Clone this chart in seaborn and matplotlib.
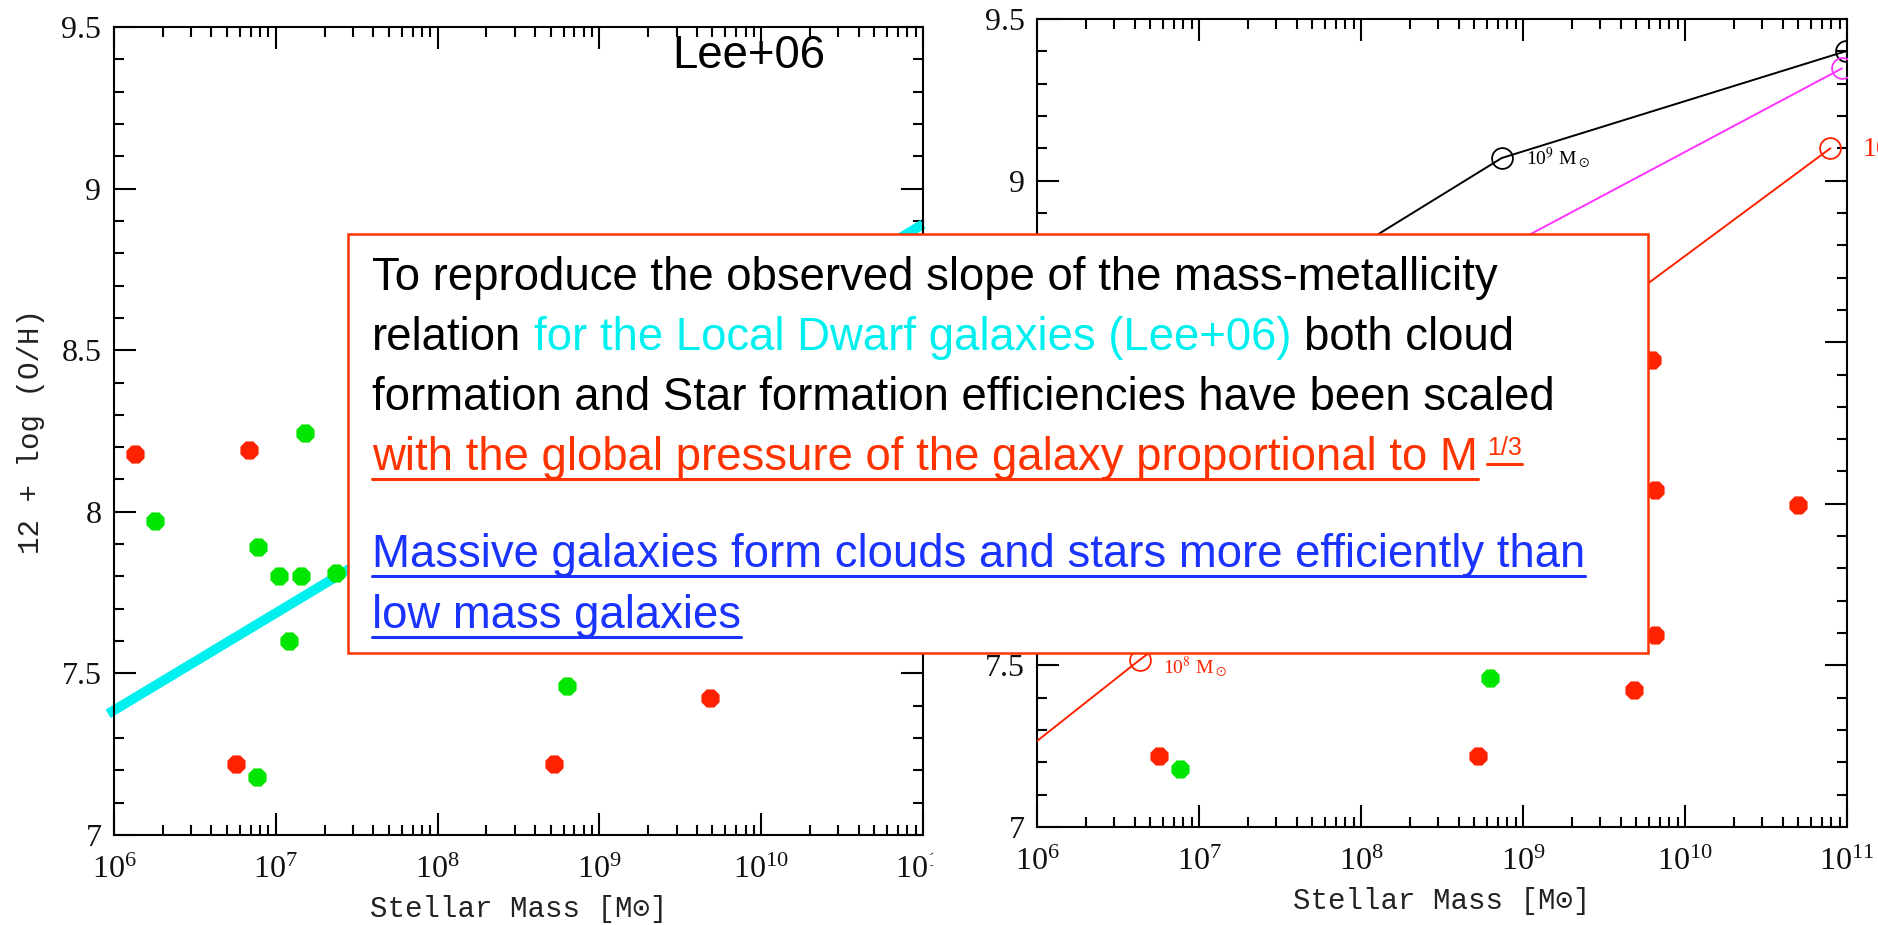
import matplotlib
matplotlib.use("Agg")
import matplotlib.pyplot as plt
import seaborn as sns
from matplotlib.patches import Rectangle
from matplotlib.lines import Line2D
from matplotlib.transforms import Bbox, TransformedBbox
from matplotlib.ticker import LogLocator, MultipleLocator, LogFormatterMathtext

# -------------------------------------------------------------------------
# data (stellar mass in M_sun, 12 + log(O/H))
# -------------------------------------------------------------------------
red_mass = [1.35e6, 6.8e6, 5.65e6, 5.27e8, 4.84e9, 6.22e9, 6.53e9, 6.53e9, 5.0e10]
red_oh = [8.18, 8.19, 7.22, 7.22, 7.425, 8.445, 8.043, 7.594, 7.996]

green_mass = [1.51e7, 1.79e6, 7.8e6, 1.045e7, 1.44e7, 2.34e7, 1.2e7, 7.6e6, 6.3e8]
green_oh = [8.244, 7.97, 7.89, 7.80, 7.80, 7.81, 7.60, 7.18, 7.46]

# Lee+06 mass-metallicity relation
lee_mass = [9.2e5, 1.0e11]
lee_oh = [7.375, 8.89]

# model tracks (right panel)
black_mass = [4.7e7, 7.4e8, 9.8e10]
black_oh = [8.70, 9.07, 9.40]
magenta_mass = [3.2e8, 9.3e10]
magenta_oh = [8.69, 9.347]
redmod_mass = [3.2e5, 4.3e6, 7.9e10]
redmod_oh = [7.07, 7.517, 9.10]

x_ticks = [1e6, 1e7, 1e8, 1e9, 1e10, 1e11]
y_ticks = [7, 7.5, 8, 8.5, 9, 9.5]
y_ticklabels = ['7', '7.5', '8', '8.5', '9', '9.5']

# colours
RED = '#ff2200'
GREEN = '#00e600'
CYAN = '#00f0f0'
BLUE = '#1a33ff'
MAGENTA = '#ff33ff'
BOXRED = '#ff3300'

W, H = 1878, 925
MONO = ['Liberation Mono', 'DejaVu Sans Mono']
BOX_FONT = ['Liberation Sans', 'DejaVu Sans']

sns.set_theme(style='ticks')
plt.rcParams['font.family'] = 'serif'
plt.rcParams['font.serif'] = ['Liberation Serif', 'DejaVu Serif']
plt.rcParams['mathtext.fontset'] = 'stix'

fig = plt.figure(figsize=(W / 100, H / 100), dpi=100)
fig.patch.set_facecolor('white')

ax1 = fig.add_axes([114 / W, 1 - 835 / H, 809 / W, 808 / H])
ax2 = fig.add_axes([1037 / W, 1 - 827 / H, 810 / W, 808 / H])


def style_axes(ax):
    ax.set_xscale('log')
    ax.set_xlim(1e6, 1e11)
    ax.set_ylim(7, 9.5)
    ax.set_facecolor('white')
    ax.grid(False)
    ax.set_xticks(x_ticks)
    ax.xaxis.set_major_formatter(LogFormatterMathtext())
    ax.xaxis.set_minor_locator(LogLocator(base=10, subs=range(2, 10), numticks=20))
    ax.set_yticks(y_ticks)
    ax.set_yticklabels(y_ticklabels)
    ax.yaxis.set_minor_locator(MultipleLocator(0.1))
    ax.tick_params(which='both', direction='in', top=True, right=True,
                   width=1.5, color='black', labelcolor='#111111')
    ax.tick_params(which='major', length=16, labelsize=23, pad=9)
    ax.tick_params(axis='x', which='major', pad=15)
    ax.tick_params(which='minor', length=7)
    for sp in ax.spines.values():
        sp.set_visible(True)
        sp.set_color('black')
        sp.set_linewidth(1.5)
    ax.set_xlabel('Stellar Mass [M\u2299]', family=MONO, fontsize=21,
                  color='#222222', labelpad=7)


for ax in (ax1, ax2):
    style_axes(ax)
    sns.scatterplot(x=red_mass, y=red_oh, ax=ax, color=RED, marker='8',
                    s=200, linewidth=0, zorder=5)
    sns.scatterplot(x=green_mass, y=green_oh, ax=ax, color=GREEN, marker='8',
                    s=200, linewidth=0, zorder=5)

# left panel: Lee+06 relation
sns.lineplot(x=lee_mass, y=lee_oh, ax=ax1, color=CYAN, lw=7, estimator=None,
             solid_capstyle='butt', clip_on=False, zorder=2)
ax1.set_ylabel('12 + log (O/H)', family=MONO, fontsize=21, color='#222222', labelpad=12)

# right panel: model tracks
for xs, ys, c in [(black_mass, black_oh, 'black'),
                  (magenta_mass, magenta_oh, MAGENTA),
                  (redmod_mass, redmod_oh, RED)]:
    sns.lineplot(x=xs, y=ys, ax=ax2, color=c, lw=1.4, sort=False, estimator=None,
                 marker='o', ms=15, mfc='none', mec=c, mew=1.3, zorder=3)
ax2.set_ylabel('')
ax2.text(1.05e9, 9.07, r'10$^9$ M$_\odot$', fontsize=14, color='black', va='center')
ax2.text(6.0e6, 7.495, r'10$^8$ M$_\odot$', fontsize=14, color=RED, va='center')
ax2.text(1.23e11, 9.10, r'10$^{10}$ M$_\odot$', fontsize=20, color=RED, va='center')

# the left panel's last tick label is cut by the neighbouring image
fig.canvas.draw()
clip = TransformedBbox(Bbox([[0, 0], [933 / W, 1]]), fig.transFigure)
for lab in ax1.get_xticklabels():
    lab.set_clip_box(clip)
    lab.set_clip_on(True)

# -------------------------------------------------------------------------
# overlaid text box
# -------------------------------------------------------------------------
fig.patches.append(Rectangle((348 / W, 1 - 653 / H), (1648 - 348) / W, (653 - 234) / H,
                             transform=fig.transFigure, facecolor='white',
                             edgecolor=BOXRED, linewidth=1.8, zorder=10))

renderer = fig.canvas.get_renderer()


def text_width(s, size):
    t = fig.text(0, 0, s, fontsize=size, family=BOX_FONT)
    w = t.get_window_extent(renderer).width
    t.remove()
    return w


widest = 'Massive galaxies form clouds and stars more efficiently than'
box_size = 30 * (1584 - 372) / text_width(widest, 30)
space = text_width('a a', box_size) - text_width('aa', box_size)


def put_line(y_base, pieces, x0=372, size=None):
    size = size or box_size
    x = x0
    for s, color, under in pieces:
        t = fig.text(x / W, 1 - y_base / H, s, color=color, fontsize=size,
                     family=BOX_FONT, va='baseline', ha='left', zorder=11)
        bb = t.get_window_extent(renderer)
        if under:
            fig.add_artist(Line2D([x / W, bb.x1 / W], [1 - (y_base + 9) / H] * 2,
                                  transform=fig.transFigure, color=color, lw=2.2, zorder=11))
        x = bb.x1 + space
    return x


put_line(290, [('To reproduce the observed slope of the mass-metallicity', 'black', False)])
put_line(350, [('relation', 'black', False),
               ('for the Local Dwarf galaxies (Lee+06)', CYAN, False),
               ('both cloud', 'black', False)])
put_line(410, [('formation and Star formation efficiencies have been scaled', 'black', False)])
xe = put_line(470, [('with the global pressure of the galaxy proportional to M', BOXRED, True)])
put_line(455, [('1/3', BOXRED, True)], x0=xe - space * 0.3, size=box_size * 0.55)
put_line(567, [('Massive galaxies form clouds and stars more efficiently than', BLUE, True)])
put_line(628, [('low mass galaxies', BLUE, True)])

fig.text(672 / W, 1 - 68 / H, 'Lee+06', fontsize=box_size, family=BOX_FONT,
         color='black', va='baseline', ha='left')

fig.savefig('out.png', dpi=100, facecolor='white')
